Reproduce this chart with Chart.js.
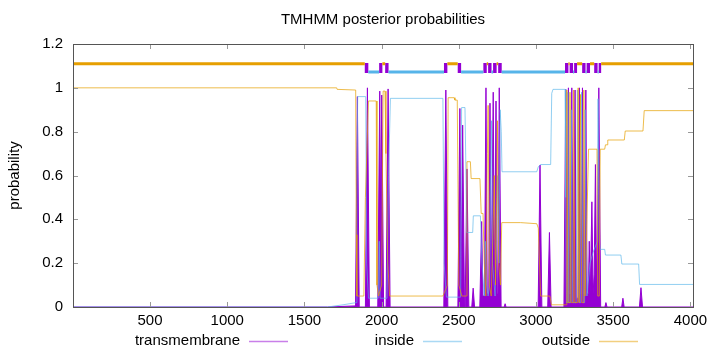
<!DOCTYPE html>
<html>
<head>
<meta charset="utf-8">
<script src="https://cdn.jsdelivr.net/npm/chart.js@4"></script>
<style>
  html, body { margin: 0; padding: 0; background: #fff; }
  #wrap { width: 720px; height: 352px; }
</style>
</head>
<body>
<div id="wrap"><canvas id="myChart" width="720" height="352"></canvas></div>
<script>
// sequence length and ticks
const seqLength = 4017;
const xTicks = [500, 1000, 1500, 2000, 2500, 3000, 3500, 4000];
const yTicks = [0, 0.2, 0.4, 0.6, 0.8, 1, 1.2];

// predicted transmembrane segments (start, end)
const tmSegments = [
    [1891, 1914], [1984, 2005], [2023, 2045], [2404, 2426], [2493, 2515],
    [2659, 2681], [2690, 2712], [2722, 2745], [2755, 2778], [3188, 3210],
    [3218, 3240], [3247, 3266], [3299, 3321], [3328, 3350], [3377, 3399],
    [3406, 3422]
];

// posterior probabilities
const tmX = [1, 1650, 1830, 1831, 1843, 1855, 1895, 1908, 1921, 1975, 1988, 1995, 2001, 2013, 2029, 2042, 2055,
    2403, 2416, 2429, 2494, 2507, 2515, 2525, 2537, 2541, 2553, 2565, 2584, 2593, 2602, 2636, 2648, 2656,
    2666, 2676, 2684, 2694, 2702, 2710, 2715, 2723, 2731, 2734, 2741, 2749, 2754, 2762, 2774, 2794, 2800, 2806,
    3014, 3026, 3038, 3076, 3087, 3098, 3181, 3193, 3201, 3210, 3218, 3224, 3232, 3240, 3245, 3253, 3261,
    3273, 3281, 3289, 3293, 3301, 3309, 3315, 3323, 3331, 3339, 3345, 3352, 3362, 3370, 3377, 3385, 3392,
    3399, 3407, 3419, 3446, 3453, 3460, 3555, 3563, 3571, 3670, 3680, 3690, 4017];
const tmY = [0, 0, 0.005, 0, 0.96, 0, 0, 1.0, 0, 0, 0.985, 0.3, 0.967, 0, 0, 0.995, 0,
    0, 0.99, 0, 0, 0.906, 0.1, 0.83, 0, 0, 0.63, 0, 0, 0.086, 0, 0, 0.39, 0.05,
    0.05, 1.0, 0.06, 0.06, 0.93, 0.06, 0.06, 0.98, 0.06, 0.06, 0.94, 0.06, 0.06, 1.0, 0, 0, 0.015, 0,
    0, 0.648, 0, 0, 0.34, 0, 0, 0.993, 0.06, 1.0, 0.06, 0.06, 1.0, 0.06, 0.06, 0.99, 0.04,
    0.04, 1.0, 0.06, 0.06, 1.0, 0.06, 0.06, 0.99, 0.06, 0.06, 0.3, 0.06, 0.48, 0.06, 0.15, 0.65, 0.15,
    0.25, 1.0, 0, 0, 0.02, 0, 0, 0.04, 0, 0, 0.088, 0, 0];

const inX = [1, 1650, 1750, 1835, 1840, 1845, 1897, 1903, 1915, 1978, 1985, 1990, 2035, 2045, 2057, 2397, 2405,
    2420, 2512, 2518, 2540, 2546, 2550, 2590, 2594, 2640, 2650, 2665, 2672, 2680, 2690, 2700, 2706, 2712,
    2718, 2735, 2745, 2752, 2760, 2768, 2775, 2780, 3005, 3015, 3030, 3095, 3102, 3110, 3188, 3192, 3197,
    3203, 3206, 3212, 3225, 3228, 3238, 3260, 3268, 3278, 3290, 3295, 3305, 3315, 3318, 3330, 3350, 3370,
    3398, 3402, 3410, 3416, 3445, 3450, 3550, 3556, 3665, 3671, 4017];
const inY = [0, 0, 0.01, 0.02, 0.5, 0.96, 0.96, 0.2, 0.04, 0.04, 0.3, 0.04, 0.04, 0.6, 0.952, 0.952, 0.2,
    0.045, 0.045, 0.91, 0.91, 0.63, 0.34, 0.34, 0.416, 0.416, 0.2, 0.05, 0.3, 0.1, 0.05, 0.1, 0.6, 0.85,
    0.2, 0.05, 0.3, 0.6, 0.2, 0.9, 0.8, 0.617, 0.617, 0.64, 0.65, 0.65, 0.975, 0.993, 0.993, 0.5, 0.02,
    0.02, 0.98, 0.02, 0.02, 0.9, 0.02, 0.02, 0.99, 0.02, 0.02, 0.98, 0.02, 0.02, 0.9, 0.05, 0.2, 0.25,
    0.3, 0.95, 0.3, 0.263, 0.263, 0.237, 0.237, 0.196, 0.196, 0.103, 0.103];

const outX = [1, 1709, 1712, 1832, 1836, 1840, 1885, 1895, 1915, 1965, 1970, 1980, 2000, 2010, 2022, 2028, 2040,
    2052, 2397, 2426, 2431, 2470, 2475, 2490, 2500, 2520, 2550, 2553, 2575, 2580, 2637, 2645, 2657, 2665,
    2675, 2685, 2690, 2698, 2710, 2720, 2730, 2738, 2745, 2750, 2758, 2770, 2778, 2900, 3005, 3015, 3030,
    3090, 3100, 3188, 3198, 3200, 3207, 3215, 3220, 3228, 3240, 3244, 3252, 3270, 3273, 3280, 3285, 3288,
    3296, 3305, 3310, 3318, 3330, 3340, 3395, 3400, 3410, 3416, 3445, 3450, 3460, 3465, 3572, 3578, 3693,
    3701, 4017];
const outY = [1.0, 1.0, 0.993, 0.99, 0.33, 0.05, 0.05, 0.5, 0.94, 0.94, 0.1, 0.05, 0.1, 0.985, 0.985, 0.7, 0.2,
    0.05, 0.05, 0.1, 0.955, 0.955, 0.944, 0.944, 0.1, 0.05, 0.05, 0.663, 0.663, 0.586, 0.586, 0.427, 0.427, 0.2,
    0.05, 0.7, 0.92, 0.1, 0.05, 0.3, 0.6, 0.1, 0.5, 0.85, 0.2, 0.1, 0.385, 0.385, 0.38, 0.36, 0.05,
    0.05, 0.01, 0.01, 0.01, 0.99, 0.02, 0.02, 0.98, 0.02, 0.02, 0.99, 0.02, 0.02, 1.0, 0.02, 0.02, 0.97,
    0.02, 0.02, 0.99, 0.05, 0.4, 0.72, 0.72, 0.05, 0.05, 0.72, 0.72, 0.74, 0.74, 0.762, 0.762, 0.803, 0.803,
    0.896, 0.896];

const seriesNames = ['transmembrane', 'inside', 'outside'];
const purple = '#9400d3', blue = '#56b4e9', orange = '#e69f00';

function pts(xs, ys) {
    return xs.map((x, i) => ({ x: x, y: ys[i] }));
}

// prediction band above the curves, built from the TM segments
const outBand = [], inBand = [], tmBand = [];
let prev = 1, outsideNow = true;
tmSegments.forEach(function (seg) {
    const band = outsideNow ? outBand : inBand;
    band.push({ x: prev, y: outsideNow ? 1.11 : 1.072 }, { x: seg[0], y: outsideNow ? 1.11 : 1.072 }, { x: seg[0], y: null });
    tmBand.push({ x: seg[0], y: 1.091 }, { x: seg[1], y: 1.091 }, { x: seg[1], y: null });
    prev = seg[1];
    outsideNow = !outsideNow;
});
(outsideNow ? outBand : inBand).push({ x: prev, y: outsideNow ? 1.11 : 1.072 }, { x: seqLength, y: outsideNow ? 1.11 : 1.072 });

const framePlugin = {
    id: 'framePlugin',
    afterDatasetsDraw(chart) {
        const ctx = chart.ctx, a = chart.chartArea;
        const sx = chart.scales.x, sy = chart.scales.y;
        ctx.save();
        ctx.strokeStyle = '#999';
        ctx.lineWidth = 1;
        ctx.beginPath();
        xTicks.forEach(v => {
            const p = Math.round(sx.getPixelForValue(v)) + 0.5;
            ctx.moveTo(p, a.bottom); ctx.lineTo(p, a.bottom - 5);
            ctx.moveTo(p, a.top); ctx.lineTo(p, a.top + 5);
        });
        yTicks.forEach(v => {
            const p = Math.round(sy.getPixelForValue(v)) + 0.5;
            ctx.moveTo(a.left, p); ctx.lineTo(a.left + 5, p);
            ctx.moveTo(a.right, p); ctx.lineTo(a.right - 5, p);
        });
        ctx.stroke();
        ctx.strokeStyle = '#555';
        ctx.strokeRect(Math.round(a.left) + 0.5, Math.round(a.top) + 0.5,
            Math.round(a.right - a.left), Math.round(a.bottom - a.top));
        ctx.restore();
    },
    afterDraw(chart) {
        const ctx = chart.ctx, a = chart.chartArea;
        ctx.save();
        ctx.fillStyle = '#000';
        ctx.font = '15px "Liberation Sans", Arial, sans-serif';
        ctx.textAlign = 'center';
        ctx.textBaseline = 'middle';
        ctx.fillText('TMHMM posterior probabilities', (a.left + a.right) / 2, 20);
        // legend, gnuplot style: text then sample line
        const ends = [240, 414, 590];
        const cols = ['rgba(148,0,211,0.5)', 'rgba(86,180,233,0.5)', 'rgba(230,159,0,0.5)'];
        ctx.textAlign = 'right';
        seriesNames.forEach((name, i) => {
            ctx.fillStyle = '#000';
            ctx.fillText(name, ends[i], 341);
            ctx.strokeStyle = cols[i];
            ctx.lineWidth = 1.5;
            ctx.beginPath();
            ctx.moveTo(ends[i] + 9, 341.5);
            ctx.lineTo(ends[i] + 48, 341.5);
            ctx.stroke();
        });
        ctx.restore();
    }
};

Chart.defaults.font.family = '"Liberation Sans", Arial, sans-serif';
Chart.defaults.font.size = 15;
Chart.defaults.color = '#000';

const ctx = document.getElementById('myChart').getContext('2d');
const myChart = new Chart(ctx, {
    type: 'line',
    data: {
        datasets: [
            {
                label: 'outBand', data: outBand, borderColor: orange, borderWidth: 3,
                spanGaps: false, order: 0
            },
            {
                label: 'inBand', data: inBand, borderColor: blue, borderWidth: 3,
                spanGaps: false, order: 0
            },
            {
                label: 'tmBand', data: tmBand, borderColor: purple, borderWidth: 10,
                borderCapStyle: 'butt', spanGaps: false, order: 0
            },
            {
                label: seriesNames[2], data: pts(outX, outY), borderColor: 'rgba(230,159,0,0.7)',
                borderWidth: 1, order: 1
            },
            {
                label: seriesNames[1], data: pts(inX, inY), borderColor: 'rgba(86,180,233,0.65)',
                borderWidth: 1, order: 2
            },
            {
                label: seriesNames[0], data: pts(tmX, tmY), borderColor: purple,
                backgroundColor: purple, fill: 'origin', borderWidth: 1, order: 3
            }
        ]
    },
    options: {
        responsive: false,
        animation: false,
        layout: { padding: { top: 44, right: 27, left: 0, bottom: 0 } },
        elements: { point: { radius: 0 }, line: { tension: 0 } },
        plugins: { legend: { display: false }, tooltip: { enabled: false } },
        scales: {
            x: {
                type: 'linear', min: 1, max: seqLength,
                grid: { display: false, drawTicks: false },
                border: { display: false },
                afterBuildTicks: s => { s.ticks = xTicks.map(v => ({ value: v })); },
                afterFit: s => { s.height = 45; },
                ticks: { padding: 5, maxRotation: 0, autoSkip: false, callback: v => String(v) }
            },
            y: {
                min: 0, max: 1.2,
                grid: { display: false, drawTicks: false },
                border: { display: false },
                afterBuildTicks: s => { s.ticks = yTicks.map(v => ({ value: v })); },
                afterFit: s => { s.width = 73; },
                ticks: { padding: 10, callback: v => String(v) },
                title: { display: true, text: 'probability', padding: { top: 6, bottom: 0 } }
            }
        }
    },
    plugins: [framePlugin]
});
</script>
</body>
</html>
